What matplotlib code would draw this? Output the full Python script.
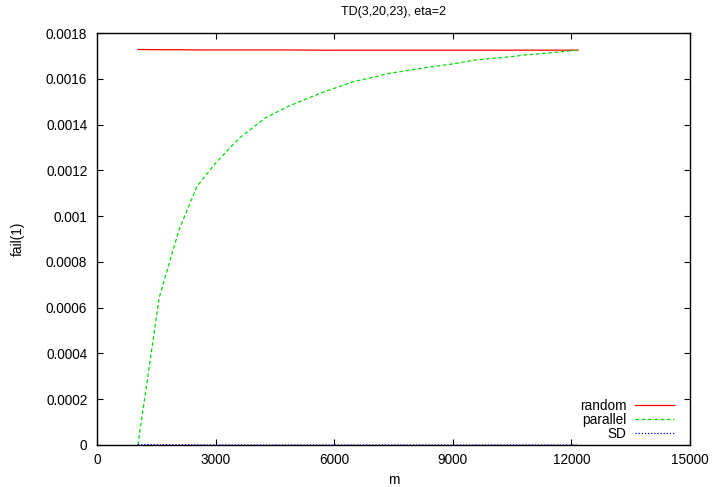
"""TD(3,20,23), eta=2: fail(1) against m for the three strategies."""
import matplotlib
matplotlib.use("Agg")
import matplotlib.pyplot as plt
from matplotlib.ticker import FuncFormatter

# values
m_values = [1035, 1575, 2075, 2530, 3000, 3600, 4250, 4830, 5650, 6500,
            7075, 7330, 8325, 9000, 9575, 10500, 10825, 11500, 12167]
random_fail = [0.001728, 0.001727, 0.001727, 0.001726, 0.001726, 0.001726,
               0.001726, 0.001726, 0.001725, 0.001725, 0.001725, 0.001725,
               0.001725, 0.001725, 0.001725, 0.001725, 0.001725, 0.001725,
               0.001725]
parallel_fail = [0.0, 0.000645, 0.000941, 0.00113, 0.001232, 0.001341,
                 0.001428, 0.001479, 0.001537, 0.001588, 0.00161, 0.001622,
                 0.001649, 0.001665, 0.001682, 0.001697, 0.001704, 0.001714,
                 0.001725]
sd_fail = [0.000002, 0.000001, 0.000001, 0.000001, 0.0, 0.0, 0.0, 0.0, 0.0,
           0.0, 0.0, 0.0, 0.0, 0.0, 0.0, 0.0, 0.0, 0.0, 0.0]

x_ticks = [0, 3000, 6000, 9000, 12000, 15000]
y_ticks = [0, 0.0002, 0.0004, 0.0006, 0.0008, 0.001, 0.0012, 0.0014, 0.0016, 0.0018]

FS = 9.8
plt.rcParams["font.family"] = ["Liberation Sans", "DejaVu Sans"]
plt.rcParams["font.size"] = FS

fig = plt.figure(figsize=(7.13, 4.87), dpi=100)
ax = fig.add_axes([97 / 713, 42 / 487, 593 / 713, 412 / 487])

ax.plot(m_values, random_fail, color="#ff0000", lw=0.9, label="random")
ax.plot(m_values, parallel_fail, color="#00dd00", lw=0.9,
        dashes=(3, 2), label="parallel")
ax.plot(m_values, sd_fail, color="#0000ff", lw=0.9,
        dashes=(1, 1.5), label="SD")

ax.set_xlim(0, 15000)
ax.set_ylim(0, 0.0018)
ax.set_xticks(x_ticks)
ax.set_yticks(y_ticks)
ax.yaxis.set_major_formatter(FuncFormatter(lambda v, _: "%g" % round(v, 6)))
ax.tick_params(direction="in", length=4.5, width=0.8, top=True, right=True,
               pad=6, labelsize=FS)
ax.tick_params(axis="y", pad=7)
for s in ax.spines.values():
    s.set_linewidth(1.0)

ax.set_title("TD(3,20,23), eta=2", fontsize=FS - 0.8, pad=13)
ax.set_xlabel("m", labelpad=4)
ax.set_ylabel("fail(1)", labelpad=15)

ax.legend(loc="lower right", frameon=False, markerfirst=False,
          handlelength=2.9, handletextpad=0.6, labelspacing=0.0,
          borderaxespad=0.0, borderpad=0.0, fontsize=FS,
          bbox_to_anchor=((674 - 97) / 593, 0.01))

fig.savefig("out.png", dpi=100)
